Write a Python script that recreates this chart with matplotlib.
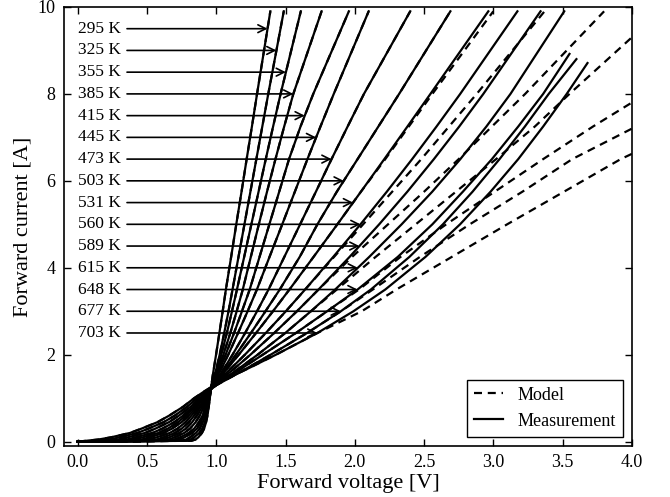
import numpy as np
import matplotlib.pyplot as plt

plt.rcParams['font.family'] = ['Liberation Serif', 'DejaVu Serif']

# temperatures of the measured curves [K]
temps = [295, 325, 355, 385, 415, 445, 473, 503, 531, 560, 589, 615, 648, 677, 703]

current_grid = [0.0, 0.02, 0.05, 0.1, 0.2, 0.3, 0.45, 0.6, 0.8, 1.0, 1.15, 1.3,
                1.5, 1.7, 2.0, 2.5, 3.0, 3.5, 4.25, 5.0, 5.75, 6.5, 7.25, 8.0]

# measured forward voltage [V] at each current level
meas_v = {
    295: [0.0, 0.82, 0.85, 0.87, 0.896, 0.912, 0.926, 0.936, 0.945, 0.953, 0.959, 0.965,
          0.973, 0.983, 0.998, 1.022, 1.046, 1.069, 1.107, 1.144, 1.182, 1.219, 1.257, 1.294],
    325: [0.0, 0.78, 0.816, 0.84, 0.877, 0.90, 0.917, 0.93, 0.941, 0.95, 0.958, 0.966,
          0.985, 1.002, 1.024, 1.057, 1.088, 1.117, 1.16, 1.203, 1.246, 1.289, 1.332, 1.375],
    355: [0.0, 0.74, 0.782, 0.81, 0.853, 0.88, 0.903, 0.92, 0.937, 0.95, 0.958, 0.967,
          0.989, 1.009, 1.036, 1.076, 1.113, 1.149, 1.201, 1.253, 1.305, 1.357, 1.41, 1.464],
    385: [0.0, 0.69, 0.738, 0.77, 0.826, 0.86, 0.889, 0.91, 0.929, 0.945, 0.956, 0.967,
          0.994, 1.018, 1.051, 1.101, 1.147, 1.191, 1.249, 1.307, 1.366, 1.427, 1.49, 1.556],
    415: [0.0, 0.64, 0.70, 0.74, 0.802, 0.84, 0.875, 0.90, 0.922, 0.94, 0.954, 0.968,
          0.999, 1.028, 1.067, 1.128, 1.185, 1.241, 1.312, 1.383, 1.454, 1.525, 1.608, 1.70],
    445: [0.0, 0.59, 0.656, 0.70, 0.768, 0.81, 0.851, 0.88, 0.91, 0.935, 0.953, 0.97,
          1.006, 1.04, 1.086, 1.157, 1.226, 1.293, 1.384, 1.476, 1.567, 1.658, 1.752, 1.848],
    473: [0.0, 0.54, 0.612, 0.66, 0.734, 0.78, 0.826, 0.86, 0.899, 0.93, 0.953, 0.975,
          1.018, 1.059, 1.117, 1.208, 1.294, 1.377, 1.491, 1.605, 1.719, 1.832, 1.948, 2.066],
    503: [0.0, 0.49, 0.568, 0.62, 0.701, 0.75, 0.802, 0.84, 0.887, 0.925, 0.951, 0.977,
          1.025, 1.073, 1.141, 1.25, 1.355, 1.458, 1.602, 1.73, 1.87, 2.02, 2.17, 2.32],
    531: [0.0, 0.43, 0.514, 0.57, 0.663, 0.72, 0.778, 0.82, 0.875, 0.92, 0.948, 0.978,
          1.03, 1.084, 1.162, 1.287, 1.409, 1.528, 1.702, 1.874, 2.044, 2.213, 2.38, 2.546],
    560: [0.0, 0.37, 0.46, 0.52, 0.619, 0.68, 0.75, 0.80, 0.86, 0.91, 0.945, 0.985,
          1.044, 1.111, 1.206, 1.357, 1.502, 1.641, 1.844, 2.041, 2.231, 2.414, 2.59, 2.761],
    589: [0.0, 0.31, 0.406, 0.47, 0.582, 0.65, 0.725, 0.78, 0.846, 0.90, 0.94, 0.99,
          1.06, 1.137, 1.246, 1.418, 1.582, 1.738, 1.962, 2.176, 2.379, 2.571, 2.754, 2.928],
    615: [0.0, 0.25, 0.352, 0.42, 0.538, 0.61, 0.697, 0.76, 0.832, 0.89, 0.937, 0.985,
          1.08, 1.17, 1.298, 1.498, 1.683, 1.858, 2.104, 2.338, 2.559, 2.762, 2.95, 3.124],
    648: [0.0, 0.19, 0.292, 0.36, 0.484, 0.56, 0.659, 0.73, 0.813, 0.88, 0.94, 1.0,
          1.095, 1.19, 1.335, 1.575, 1.80, 2.02, 2.31, 2.56, 2.78, 2.99, 3.18, 3.36],
    677: [0.0, 0.13, 0.232, 0.30, 0.43, 0.51, 0.62, 0.70, 0.788, 0.86, 0.925, 1.0,
          1.115, 1.227, 1.392, 1.655, 1.899, 2.116, 2.394, 2.636, 2.85, 3.045, 3.228, 3.40],
    703: [0.0, 0.06, 0.15, 0.24, 0.376, 0.46, 0.576, 0.66, 0.759, 0.84, 0.91, 0.985,
          1.11, 1.24, 1.43, 1.73, 1.99, 2.22, 2.51, 2.76, 2.98, 3.18, 3.36, 3.53],
}
# last measured point of each curve
meas_end_v = [1.39, 1.487, 1.61, 1.76, 1.957, 2.10, 2.40, 2.69, 2.964, 3.174, 3.341, 3.512,
              3.55, 3.60, 3.68]
meas_end_i = [9.9, 9.9, 9.9, 9.9, 9.9, 9.9, 9.9, 9.9, 9.9, 9.9, 9.9, 9.9, 8.92, 8.80, 8.71]

# model voltages: on top of the measurement up to ~500 K, drifting right above that
model_v = {t: meas_v[t] for t in temps if t <= 503}
model_v.update({
    531: [0.0, 0.43, 0.514, 0.57, 0.663, 0.72, 0.778, 0.82, 0.875, 0.92, 0.948, 0.978,
          1.03, 1.084, 1.162, 1.287, 1.409, 1.528, 1.702, 1.874, 2.044, 2.22, 2.39, 2.56],
    560: [0.0, 0.37, 0.46, 0.52, 0.619, 0.68, 0.75, 0.80, 0.86, 0.91, 0.945, 0.985,
          1.044, 1.111, 1.206, 1.357, 1.502, 1.641, 1.85, 2.06, 2.27, 2.48, 2.68, 2.88],
    589: [0.0, 0.31, 0.406, 0.47, 0.582, 0.65, 0.725, 0.78, 0.846, 0.90, 0.94, 0.99,
          1.06, 1.137, 1.246, 1.418, 1.582, 1.738, 1.98, 2.24, 2.50, 2.75, 2.99, 3.23],
    615: [0.0, 0.25, 0.352, 0.42, 0.538, 0.61, 0.697, 0.76, 0.832, 0.89, 0.937, 0.985,
          1.08, 1.17, 1.298, 1.498, 1.683, 1.87, 2.15, 2.44, 2.73, 3.02, 3.30, 3.55],
    648: [0.0, 0.19, 0.292, 0.36, 0.484, 0.56, 0.659, 0.73, 0.813, 0.88, 0.94, 1.0,
          1.095, 1.19, 1.335, 1.575, 1.80, 2.03, 2.33, 2.66, 3.01, 3.36, 3.72],
    677: [0.0, 0.13, 0.232, 0.30, 0.43, 0.51, 0.62, 0.70, 0.788, 0.86, 0.925, 1.0,
          1.115, 1.227, 1.392, 1.655, 1.90, 2.13, 2.47, 2.83, 3.21, 3.57],
    703: [0.0, 0.06, 0.15, 0.24, 0.376, 0.46, 0.576, 0.66, 0.759, 0.84, 0.91, 0.985,
          1.11, 1.24, 1.43, 1.73, 2.05, 2.30, 2.70, 3.10, 3.51, 3.92],
})
model_end_v = [1.39, 1.487, 1.61, 1.76, 1.957, 2.10, 2.40, 2.69, 3.00, 3.37, 3.80,
               4.0, 4.0, 4.0, 4.0]
model_end_i = [9.9, 9.9, 9.9, 9.9, 9.9, 9.9, 9.9, 9.9, 9.9, 9.9, 9.9, 9.3, 7.8, 7.2, 6.62]

# current at which each temperature label/arrow sits
label_current = [9.5, 9.0, 8.5, 8.0, 7.5, 7.0, 6.5, 6.0, 5.5, 5.0, 4.5, 4.0, 3.5, 3.0, 2.5]


def curve(volts, end_v, end_i):
    v = list(volts) + [end_v]
    i = current_grid[:len(volts)] + [end_i]
    return np.array(v), np.array(i)


def main():
    fig = plt.figure(figsize=(6.7, 4.97), dpi=100)
    ax = fig.add_axes([0.0955, 0.1026, 0.8475, 0.8834])

    for k, t in enumerate(temps):
        v, i = curve(meas_v[t], meas_end_v[k], meas_end_i[k])
        ax.plot(v, i, color='k', lw=1.6, solid_joinstyle='round',
                label='Measurement' if k == 0 else None)
    for k, t in enumerate(temps):
        v, i = curve(model_v[t], model_end_v[k], model_end_i[k])
        ax.plot(v, i, color='k', lw=1.6, linestyle=(0, (3.6, 2.6)),
                label='Model' if k == 0 else None)

    for k, t in enumerate(temps):
        v, i = curve(meas_v[t], meas_end_v[k], meas_end_i[k])
        y = label_current[k]
        tip = np.interp(y, i, v)
        ax.annotate('', xy=(tip, y), xytext=(0.355, y),
                    arrowprops=dict(arrowstyle='->', color='k', lw=1.2,
                                    mutation_scale=14, shrinkA=0, shrinkB=0))
        ax.text(0.0, y, f'{t} K', fontsize=12.5, ha='left', va='center')

    ax.set_xlim(-0.1, 4.0)
    ax.set_ylim(-0.1, 10)
    ax.set_xticks(np.arange(0, 4.01, 0.5))
    ax.set_yticks(np.arange(0, 10.1, 2))
    ax.xaxis.set_major_formatter(plt.FormatStrFormatter('%.1f'))
    ax.tick_params(direction='in', top=True, right=True, length=5, width=1,
                   labelsize=13, pad=6)
    for s in ax.spines.values():
        s.set_linewidth(1.2)

    ax.set_xlabel('Forward voltage [V]', fontsize=16, labelpad=2)
    ax.set_ylabel('Forward current [A]', fontsize=16, labelpad=4)

    handles, labels = ax.get_legend_handles_labels()
    order = [labels.index('Model'), labels.index('Measurement')]
    leg = ax.legend([handles[j] for j in order], [labels[j] for j in order],
                    loc='lower right', fontsize=13, frameon=True, fancybox=False,
                    edgecolor='k', framealpha=1, handlelength=1.6,
                    borderaxespad=0.5, borderpad=0.4)
    leg.get_frame().set_linewidth(1.0)

    fig.savefig('out.png', dpi=100)


if __name__ == "__main__":
    main()
